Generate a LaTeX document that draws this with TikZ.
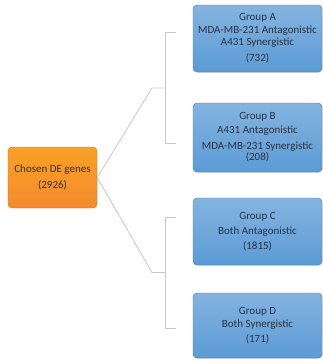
\documentclass[tikz,border=0pt]{standalone}
\usepackage{fontspec}
\setmainfont{Carlito}
\usepackage{xcolor}
\usepackage{tikz}
\usetikzlibrary{positioning, calc, shadows}
\definecolor{boxblue}{HTML}{5B9BD5}
\definecolor{boxorange}{HTML}{F68A2E}
\definecolor{linkgray}{HTML}{C8C8C8}
\definecolor{labeltext}{HTML}{2A3342}
\tikzset{
	genebox/.style={draw=boxorange!85!black, rounded corners=4pt, top color=boxorange!80!yellow, bottom color=boxorange, font=\fontsize{11}{13}\selectfont, text=labeltext, align=center, inner sep=0pt},
	groupbox/.style={draw=boxblue!80!black, rounded corners=4pt, top color=boxblue!75!white, bottom color=boxblue, minimum width=129pt, font=\fontsize{11}{12.5}\selectfont, text=labeltext, align=center, inner sep=0pt, drop shadow={opacity=0.25, shadow xshift=0.8pt, shadow yshift=-0.8pt}},
	linkline/.style={draw=linkgray, line width=0.8pt},
}
\begin{document}
\begin{tikzpicture}[x=1pt, y=-1pt]
	\useasboundingbox (0,0) rectangle (323,362);
	\fill[white] (0,0) rectangle (323,362);
	\node[genebox, minimum width=89pt, minimum height=61pt] (genes) at (52.5,177.5) {Chosen DE genes\\[3pt](2926)};
	\node[groupbox, minimum height=67pt] (grpA) at (257.5,38.5) {Group A\\MDA-MB-231 Antagonistic\\A431 Synergistic\\[3.5pt](732)};
	\node[groupbox, minimum height=69pt] (grpB) at (257.5,137.5) {Group B\\[1.5pt]A431 Antagonistic\\[3.5pt]MDA-MB-231 Synergistic\\[-1.5pt](208)};
	\node[groupbox, minimum height=67pt] (grpC) at (257.5,231.5) {Group C\\[2.5pt]Both Antagonistic\\[2.5pt](1815)};
	\node[groupbox, minimum height=65pt] (grpD) at (257.5,325.5) {Group D\\Both Synergistic\\[2.5pt](171)};
	% brackets
	\coordinate (topmid) at (165,88);
	\coordinate (topA) at (165,32);
	\coordinate (topB) at (165,143);
	\coordinate (botmid) at (165,272.5);
	\coordinate (botC) at (165,217);
	\coordinate (botD) at (165,328);
	\draw[linkline] (genes.east) -- (152,88) -- (topmid);
	\draw[linkline] (genes.east) -- (152,272.5) -- (botmid);
	\draw[linkline] ($(topA)+(11,0)$) -- (topA) -- (topB) -- ++(11,0);
	\draw[linkline] ($(botC)+(11,0)$) -- (botC) -- (botD) -- ++(11,0);
\end{tikzpicture}
\end{document}
